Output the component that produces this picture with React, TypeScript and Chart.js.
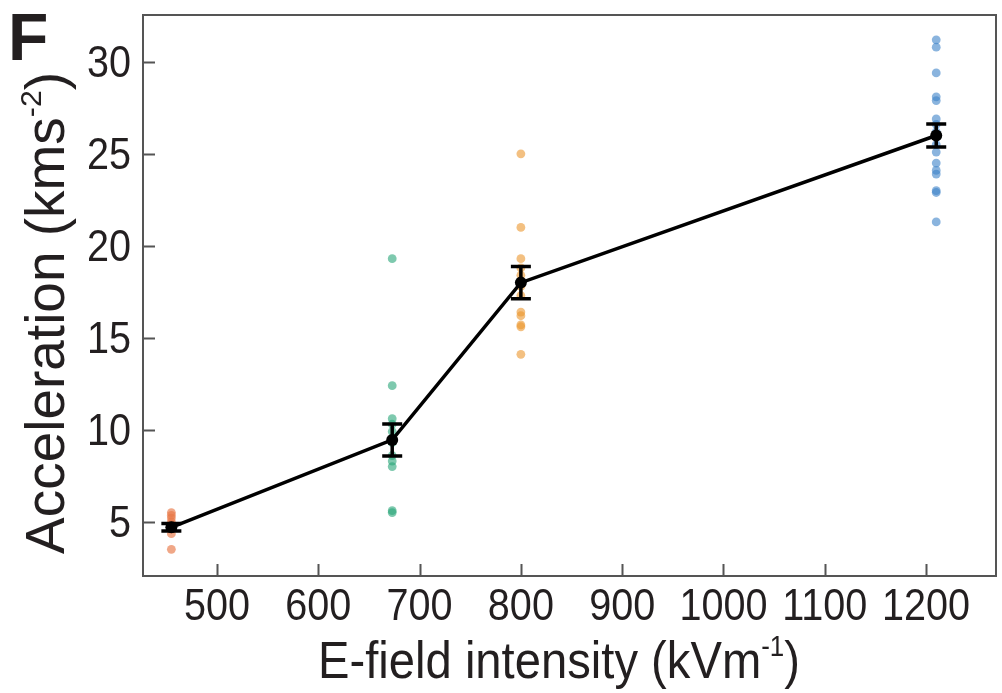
import React, { useEffect, useRef } from "react";
import { Chart, registerables } from "chart.js";

Chart.register(...registerables);

// E-field intensity groups (kV/m)
const orangeRedX = 455;
const orangeRedY = [5.5, 5.35, 5.2, 5.0, 4.85, 4.6, 4.35, 3.5];
const greenX = 673;
const greenY = [19.3, 12.4, 10.6, 10.3, 9.9, 9.3, 8.6, 8.3, 8.0, 5.6, 5.5];
const orangeX = 800;
const orangeY = [25.0, 21.0, 19.3, 18.8, 18.4, 17.8, 17.3, 16.4, 16.2, 15.7, 15.6, 14.1];
const blueX = 1210;
const blueY = [31.2, 30.8, 29.4, 28.1, 27.9, 26.9, 26.6, 26.2, 25.5, 25.1, 24.5, 24.1, 23.9, 23.0, 22.9, 21.3];

const meanX = [455, 673, 800, 1210];
const meanY = [4.7, 9.45, 18.0, 26.0];
const meanErr = [0.2, 0.87, 0.87, 0.62];

const xTicks = [500, 600, 700, 800, 900, 1000, 1100, 1200];
const yTicks = [5, 10, 15, 20, 25, 30];

const FONT = "'Liberation Sans', Arial, Helvetica, sans-serif";
const TEXT = "#231f20";

function drawSup(
  ctx: CanvasRenderingContext2D,
  base: string,
  sup: string,
  tail: string,
  size: number,
  targetWidth: number
) {
  ctx.font = `${size}px ${FONT}`;
  const wb = ctx.measureText(base).width;
  const wt = ctx.measureText(tail).width;
  ctx.font = `${size * 0.55}px ${FONT}`;
  const ws = ctx.measureText(sup).width;
  const total = wb + ws + wt;
  const sx = targetWidth / total;
  ctx.scale(sx, 1);
  let x = -total / 2;
  ctx.textAlign = "left";
  ctx.textBaseline = "alphabetic";
  ctx.font = `${size}px ${FONT}`;
  ctx.fillText(base, x, 0);
  x += wb;
  ctx.font = `${size * 0.55}px ${FONT}`;
  ctx.fillText(sup, x, -size * 0.42);
  x += ws;
  ctx.font = `${size}px ${FONT}`;
  ctx.fillText(tail, x, 0);
}

function drawNarrow(
  ctx: CanvasRenderingContext2D,
  text: string,
  x: number,
  y: number,
  align: "center" | "right",
  sx: number
) {
  ctx.save();
  ctx.translate(x, y);
  ctx.scale(sx, 1);
  ctx.textAlign = align;
  ctx.textBaseline = "alphabetic";
  ctx.fillText(text, 0, 0);
  ctx.restore();
}

const decorPlugin = {
  id: "decor",
  afterDatasetsDraw(chart: any) {
    const ctx = chart.ctx as CanvasRenderingContext2D;
    const xs = chart.scales.x;
    const ys = chart.scales.y;
    ctx.save();
    ctx.strokeStyle = "#000";
    ctx.lineWidth = 3.5;
    for (let i = 0; i < meanX.length; i++) {
      const px = xs.getPixelForValue(meanX[i]);
      const top = ys.getPixelForValue(meanY[i] + meanErr[i]);
      const bot = ys.getPixelForValue(meanY[i] - meanErr[i]);
      ctx.beginPath();
      ctx.moveTo(px, top);
      ctx.lineTo(px, bot);
      ctx.moveTo(px - 10, top);
      ctx.lineTo(px + 10, top);
      ctx.moveTo(px - 10, bot);
      ctx.lineTo(px + 10, bot);
      ctx.stroke();
    }
    ctx.restore();
  },
  afterDraw(chart: any) {
    const ctx = chart.ctx as CanvasRenderingContext2D;
    const a = chart.chartArea;
    const xs = chart.scales.x;
    const ys = chart.scales.y;
    ctx.save();
    // frame
    ctx.strokeStyle = "#555";
    ctx.lineWidth = 2;
    ctx.strokeRect(a.left, a.top, a.right - a.left, a.bottom - a.top);
    // inward ticks
    ctx.beginPath();
    for (const v of yTicks) {
      const py = Math.round(ys.getPixelForValue(v)) + 0.5;
      ctx.moveTo(a.left, py);
      ctx.lineTo(a.left + 12, py);
    }
    for (const v of xTicks) {
      const px = Math.round(xs.getPixelForValue(v)) + 0.5;
      ctx.moveTo(px, a.bottom);
      ctx.lineTo(px, a.bottom - 12);
    }
    ctx.stroke();
    // tick labels
    ctx.fillStyle = TEXT;
    ctx.font = `45px ${FONT}`;
    for (const v of yTicks) {
      const py = ys.getPixelForValue(v);
      drawNarrow(ctx, String(v), a.left - 12, py + 15, "right", 0.88);
    }
    for (const v of xTicks) {
      const px = xs.getPixelForValue(v);
      drawNarrow(ctx, String(v), px, a.bottom + 44, "center", 0.88);
    }
    // axis titles
    ctx.save();
    ctx.translate(559, 678);
    drawSup(ctx, "E-field intensity (kVm", "-1", ")", 52, 482);
    ctx.restore();
    ctx.save();
    ctx.translate(64, 313);
    ctx.rotate(-Math.PI / 2);
    drawSup(ctx, "Acceleration (kms", "-2", ")", 55, 482);
    ctx.restore();
    // panel label
    ctx.font = `bold 66px ${FONT}`;
    ctx.textAlign = "left";
    ctx.textBaseline = "alphabetic";
    ctx.fillText("F", 8, 60);
    ctx.restore();
  },
};

function pts(x: number, ys: number[]) {
  return ys.map((y) => ({ x, y }));
}

export default function App() {
  const ref = useRef<HTMLCanvasElement | null>(null);
  useEffect(() => {
    if (!ref.current) return;
    const mk = (data: { x: number; y: number }[], color: string) => ({
      type: "scatter" as const,
      data,
      showLine: false,
      backgroundColor: color,
      borderWidth: 0,
      pointRadius: 4.4,
    });
    const chart = new Chart(ref.current, {
      type: "scatter",
      data: {
        datasets: [
          {
            type: "line",
            data: meanX.map((x, i) => ({ x, y: meanY[i] })),
            borderColor: "#000",
            backgroundColor: "#000",
            borderWidth: 3.5,
            pointRadius: 6,
            pointBorderWidth: 0,
            showLine: true,
            fill: false,
          } as any,
          mk(pts(orangeRedX, orangeRedY), "rgba(232,120,70,0.65)"),
          mk(pts(greenX, greenY), "rgba(40,165,120,0.6)"),
          mk(pts(orangeX, orangeY), "rgba(235,150,45,0.6)"),
          mk(pts(blueX, blueY), "rgba(60,130,200,0.6)"),
        ],
      },
      options: {
        animation: false,
        responsive: false,
        layout: { padding: { left: 0, top: 15, right: 2, bottom: 0 } },
        plugins: { legend: { display: false }, tooltip: { enabled: false } },
        scales: {
          x: {
            type: "linear",
            min: 427,
            max: 1269,
            grid: { display: false, drawTicks: false },
            border: { display: false },
            afterBuildTicks: (s: any) => {
              s.ticks = xTicks.map((v) => ({ value: v }));
            },
            afterFit: (s: any) => {
              s.height = 117;
              s.paddingLeft = 0;
              s.paddingRight = 0;
            },
            ticks: { display: false },
          },
          y: {
            type: "linear",
            min: 2.05,
            max: 32.55,
            grid: { display: false, drawTicks: false },
            border: { display: false },
            afterBuildTicks: (s: any) => {
              s.ticks = yTicks.map((v) => ({ value: v }));
            },
            afterFit: (s: any) => {
              s.width = 143;
              s.paddingTop = 0;
              s.paddingBottom = 0;
            },
            ticks: { display: false },
          },
        },
      },
      plugins: [decorPlugin],
    });
    return () => chart.destroy();
  }, []);
  return (
    <div style={{ position: "fixed", left: 0, top: 0, width: 1002, height: 693, background: "#fff" }}>
      <canvas ref={ref} width={1002} height={693} style={{ display: "block" }} />
    </div>
  );
}
